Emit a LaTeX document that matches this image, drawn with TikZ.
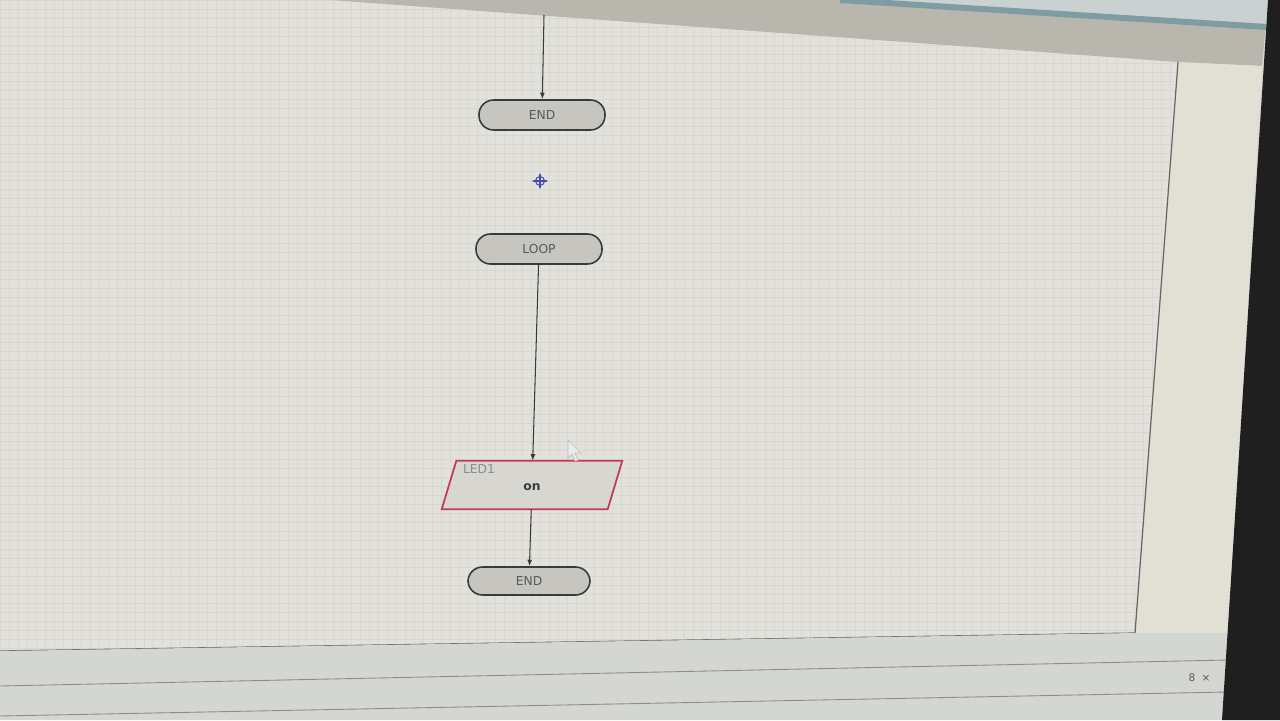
\documentclass[tikz,border=0pt]{standalone}
\usepackage{fontspec}
\setmainfont{DejaVu Sans}
\usetikzlibrary{arrows.meta}
\definecolor{screenc}{HTML}{D9D8D2}
\definecolor{canvasc}{HTML}{E2E1DB}
\definecolor{gridc}{HTML}{D8D7D0}
\definecolor{bandc}{HTML}{B9B6AE}
\definecolor{tealc}{HTML}{7F9CA2}
\definecolor{skyc}{HTML}{C9D2D0}
\definecolor{panelc}{HTML}{E2DFD4}
\definecolor{statusc}{HTML}{D4D6D1}
\definecolor{termfill}{HTML}{C6C5C0}
\definecolor{iofill}{HTML}{D7D6D1}
\definecolor{iored}{HTML}{C23B55}
\definecolor{inkc}{HTML}{3A3A3A}
\definecolor{crossc}{HTML}{4A48B0}
\tikzset{
  term/.style={draw=inkc, line width=0.9pt, fill=termfill, rounded corners=0.29cm,
    minimum width=2.52cm, minimum height=0.6cm, inner sep=0pt, text=black!65,
    font=\fontsize{7}{8}\selectfont},
  iobox/.style={minimum width=3.6cm, minimum height=0.96cm, inner sep=0pt},
  flow/.style={draw=inkc, line width=0.6pt, -{Latex[length=0.13cm,width=0.1cm]}},
  border/.style={draw=black!60, line width=0.7pt},
}
\begin{document}
\begin{tikzpicture}[x=0.02cm,y=-0.02cm]
\useasboundingbox (0,0) rectangle (1280,720);
\fill[screenc] (0,0) rectangle (1280,720);
% canvas
\fill[canvasc] (0,0) -- (330,0) -- (1178,62) -- (1135,633) -- (0,651) -- cycle;
\begin{scope}
  \clip (0,0) -- (330,0) -- (1178,62) -- (1135,633) -- (0,651) -- cycle;
  \foreach \x in {0,9,...,1180} \draw[gridc, line width=0.25pt] (\x,0) -- (\x,660);
  \foreach \y in {0,9,...,660} \draw[gridc, line width=0.25pt] (0,\y) -- (1180,\y);
\end{scope}
% top band
\fill[bandc] (330,0) -- (1268,0) -- (1262,66) -- (1178,62) -- cycle;
\fill[skyc] (840,0) -- (1268,0) -- (1268,24) -- cycle;
\draw[tealc, line width=0.12cm] (840,0) -- (1266,27);
% right panel
\fill[panelc] (1178,62) -- (1262,66) -- (1228,640) -- (1135,633) -- cycle;
\draw[border] (1178,62) -- (1135,633) -- (0,651);
% status bars
\fill[statusc] (0,651) -- (1135,633) -- (1228,633) -- (1222,720) -- (0,720) -- cycle;
\draw[black!45, line width=0.5pt] (0,686) -- (1228,660);
\draw[black!45, line width=0.5pt] (0,716) -- (1228,692);
\node[text=black!65, font=\fontsize{6}{7}\selectfont, inner sep=0pt] (pin) at (1192,678) {8};
\node[text=black!65, font=\fontsize{6}{7}\selectfont, inner sep=0pt] (close) at (1206,678) {×};
% bezel
\fill[black!88] (1268,0) -- (1280,0) -- (1280,720) -- (1222,720) -- cycle;

% flowchart
\coordinate (top) at (544,15);
\node[term] (end1) at (542,115) {END};
\node[term] (loop) at (539,249) {LOOP};
\node[iobox] (io) at (532,485) {};
\draw[draw=iored, line width=1pt, fill=iofill]
  (io.south west) -- ([xshift=3.32cm]io.south west) -- (io.north east)
  -- ([xshift=-3.32cm]io.north east) -- cycle;
\node[text=black!45, font=\fontsize{7}{8}\selectfont, inner sep=0pt] (lbl) at (479,469) {LED1};
\node[text=inkc, font=\fontsize{7}{8}\selectfont\bfseries, inner sep=0pt] (on) at (532,487) {on};
\node[term, minimum width=2.44cm, minimum height=0.56cm] (end2) at (529,581) {END};
\draw[flow] (top) -- (end1);
\draw[flow] (loop) -- (io);
\draw[flow] (io) -- (end2);

% move cursor
\coordinate (cross) at (540,181);
\draw[crossc, line width=0.6pt] (cross) circle[radius=0.09cm];
\draw[crossc, line width=0.6pt, {Latex[length=0.05cm,width=0.05cm]}-{Latex[length=0.05cm,width=0.05cm]}] ([xshift=-0.16cm]cross) -- ([xshift=0.16cm]cross);
\draw[crossc, line width=0.6pt, {Latex[length=0.05cm,width=0.05cm]}-{Latex[length=0.05cm,width=0.05cm]}] ([yshift=-0.16cm]cross) -- ([yshift=0.16cm]cross);

% mouse pointer
\draw[black!25, fill=white!92!black, line width=0.4pt]
  (568,440) -- (568,458) -- (572,454) -- (575,461) -- (578,460) -- (575,453) -- (581,453) -- cycle;
\end{tikzpicture}
\end{document}
